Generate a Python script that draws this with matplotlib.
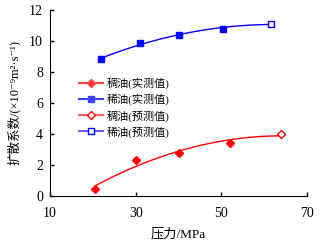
import matplotlib
matplotlib.use('Agg')
from matplotlib import pyplot as plt
import numpy as np

plt.rcParams['font.family'] = ['Liberation Serif', 'Noto Sans CJK SC', 'DejaVu Sans']

# measured / predicted values
heavy_p = [20.5, 30, 40, 52]
heavy_d = [0.45, 2.3, 2.8, 3.4]
heavy_pred_p = [64]
heavy_pred_d = [4.0]

light_p = [22, 31, 40, 50.5]
light_d = [8.85, 9.85, 10.4, 10.8]
light_pred_p = [61.5]
light_pred_d = [11.1]

labels = ['稠油(实测值)', '稀油(实测值)', '稠油(预测值)', '稀油(预测值)']

fig = plt.figure(figsize=(3.24, 2.45), dpi=100)
ax = fig.add_axes([50/324, 49/245, 257/324, 186/245])

# trend curves fitted through all points
hx = np.array(heavy_p + heavy_pred_p)
hy = np.array(heavy_d + heavy_pred_d)
ch = np.polyfit(hx, hy, 2)
xs = np.linspace(hx.min(), hx.max(), 100)
ax.plot(xs, np.polyval(ch, xs), color='red', lw=1, zorder=2)

lx = np.array(light_p + light_pred_p)
ly = np.array(light_d + light_pred_d)
cl = np.polyfit(lx, ly, 2)
xs = np.linspace(lx.min(), lx.max(), 100)
ax.plot(xs, np.polyval(cl, xs), color='blue', lw=1, zorder=2)

ax.plot(heavy_p, heavy_d, 'D', color='red', ms=4, zorder=3)
ax.plot(light_p, light_d, 's', color='blue', ms=5, zorder=3)
ax.plot(heavy_pred_p, heavy_pred_d, 'D', mfc='white', mec='red', ms=4, mew=1, zorder=3)
ax.plot(light_pred_p, light_pred_d, 's', mfc='white', mec='blue', ms=5, mew=1, zorder=3)

# legend handles
h1, = ax.plot([], [], '-D', color='#ff4040', ms=4)
h2, = ax.plot([], [], '-s', color='#4040ff', ms=5)
h3, = ax.plot([], [], '-D', color='#ff6060', mfc='white', mec='red', ms=4)
h4, = ax.plot([], [], '-s', color='#6060ff', mfc='white', mec='blue', ms=5)
leg = ax.legend([h1, h2, h3, h4], labels, loc='upper left', bbox_to_anchor=(0.095, 0.66),
                frameon=False, fontsize=8, handlelength=2.2, handletextpad=0.3,
                labelspacing=0.4, borderaxespad=0)

ax.set_xlim(10, 70)
ax.set_ylim(0, 12)
ax.set_xticks([10, 30, 50, 70])
ax.set_yticks(range(0, 13, 2))
ax.spines['top'].set_visible(False)
ax.spines['right'].set_visible(False)
ax.tick_params(labelsize=10, length=3, width=1, direction='in')
ax.tick_params(axis='x', pad=8)
ax.tick_params(axis='y', pad=5)
ax.set_xlabel('压力/MPa', fontsize=9.5, labelpad=6)
ax.set_ylabel('扩散系数/(×10⁻⁹m²·s⁻¹)', fontsize=9, labelpad=6)

plt.savefig('out.png', dpi=100)
